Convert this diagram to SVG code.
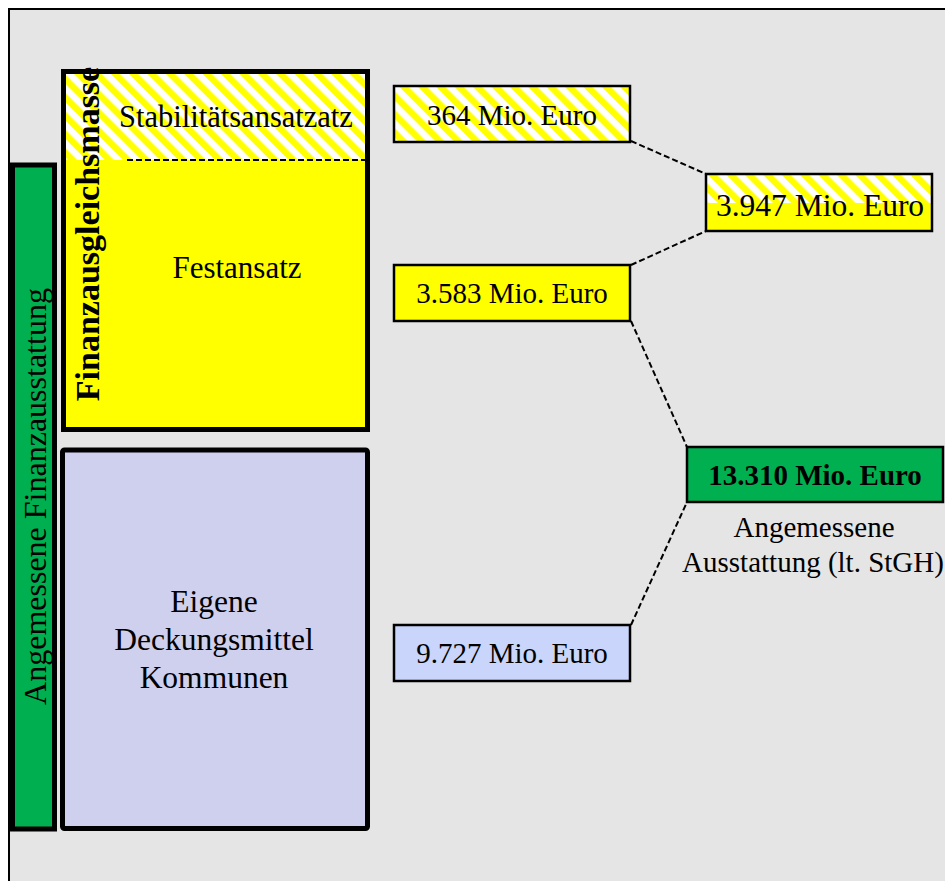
<svg xmlns="http://www.w3.org/2000/svg" width="945" height="881" viewBox="0 0 945 881">
<defs>
<pattern id="hatch" patternUnits="userSpaceOnUse" width="13" height="13" patternTransform="rotate(-45)">
<rect x="0" y="0" width="13" height="13" fill="#ffffff"/>
<rect x="0" y="0" width="6.5" height="13" fill="#ffff00"/>
</pattern>
</defs>
<style>
.t{font-family:"Liberation Serif","Times New Roman",serif;fill:#000;text-anchor:middle}
.box{stroke:#000;stroke-width:2.5}
.big{stroke:#000;stroke-width:5}
.conn{stroke:#000;stroke-width:2;stroke-dasharray:6 3;fill:none}
</style>
<rect x="0" y="0" width="945" height="881" fill="#ffffff"/>
<rect id="frame" x="9" y="9" width="960" height="900" fill="#e5e5e5" stroke="#000" stroke-width="2"/>

<g id="green-bar">
<rect class="big" x="12.5" y="165" width="42" height="664" fill="#00b050"/>
<text class="t" font-size="32" transform="translate(46,496.5) rotate(-90)">Angemessene Finanzausstattung</text>
</g>

<g id="finanzausgleichsmasse">
<rect class="big" x="63.5" y="71.5" width="304" height="358" fill="#ffff00"/>
<rect x="66" y="74" width="299" height="86" fill="url(#hatch)"/>
<line x1="127" y1="160" x2="365" y2="160" stroke="#000" stroke-width="2" stroke-dasharray="6 3"/>
<text class="t" font-size="30.5" x="236" y="127">Stabilitätsansatzatz</text>
<text class="t" font-size="31" x="237" y="278">Festansatz</text>
<text class="t" font-size="34" font-weight="bold" transform="translate(99,234) rotate(-90)">Finanzausgleichsmasse</text>
</g>

<g id="eigene-deckungsmittel">
<rect class="big" x="62.5" y="450" width="305" height="378.5" rx="2" fill="#cfcfee"/>
<text class="t" font-size="31.5" x="214" y="612">Eigene</text>
<text class="t" font-size="31.5" x="214" y="650">Deckungsmittel</text>
<text class="t" font-size="31.5" x="214" y="688">Kommunen</text>
</g>

<g id="box-364">
<rect class="box" x="394" y="86" width="236" height="56" fill="url(#hatch)"/>
<text class="t" font-size="29" x="512" y="125">364 Mio. Euro</text>
</g>

<g id="box-3583">
<rect class="box" x="394" y="265" width="236" height="56" fill="#ffff00"/>
<text class="t" font-size="29" x="512" y="303">3.583 Mio. Euro</text>
</g>

<g id="box-3947">
<rect x="706" y="174" width="226" height="57" fill="#ffff00"/>
<rect x="706" y="174" width="226" height="29" fill="url(#hatch)"/>
<rect class="box" x="706" y="174" width="226" height="57" fill="none"/>
<text class="t" font-size="31.5" x="820" y="216">3.947 Mio. Euro</text>
</g>

<g id="box-9727">
<rect class="box" x="394" y="625" width="236" height="56" fill="#c9d5fb"/>
<text class="t" font-size="29" x="512" y="663">9.727 Mio. Euro</text>
</g>

<g id="box-13310">
<rect class="box" x="687" y="447" width="256" height="55" fill="#00b050"/>
<text class="t" font-size="29" font-weight="bold" x="815" y="485">13.310 Mio. Euro</text>
<text class="t" font-size="29" x="814" y="537">Angemessene</text>
<text class="t" font-size="29" x="813" y="572">Ausstattung (lt. StGH)</text>
</g>

<g id="connectors">
<line class="conn" x1="631" y1="141" x2="706" y2="174"/>
<line class="conn" x1="631" y1="265" x2="706" y2="231"/>
<line class="conn" x1="631" y1="321" x2="687" y2="447"/>
<line class="conn" x1="631" y1="625" x2="687" y2="502"/>
</g>
</svg>
